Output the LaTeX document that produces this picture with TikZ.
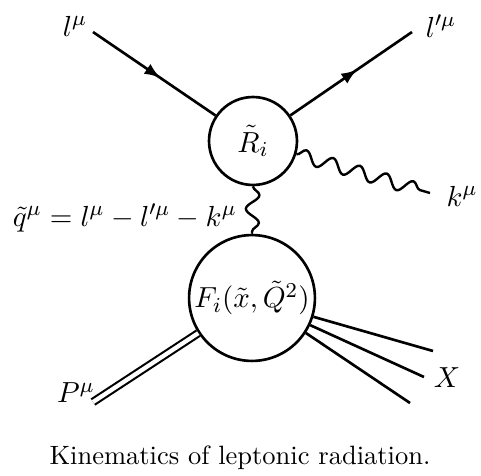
\documentclass[tikz,border=0pt]{standalone}
\usetikzlibrary{decorations.pathmorphing,decorations.markings,arrows.meta}

\tikzset{
  blob/.style={draw,circle,line width=1pt,inner sep=0pt},
  fermion/.style={line width=1pt,postaction={decorate},
    decoration={markings,mark=at position 0.55 with {\arrow{Latex[length=6pt,width=4.5pt]}}}},
  photon/.style={line width=0.9pt,decorate,
    decoration={snake,amplitude=2.5pt,segment length=10.5pt}},
  hadron/.style={double,double distance=1.6pt,line width=0.8pt},
  jet/.style={line width=1pt},
  lbl/.style={font=\fontsize{10.95}{13}\selectfont},
}

\begin{document}
\begin{tikzpicture}[x=0.3774pt,y=-0.3774pt]
        \useasboundingbox (0,0) rectangle (481,476);
        % blobs
        \node[blob,lbl,minimum size=33.2pt] (R) at (253,141) {$\tilde{R}_i$};
        \node[blob,lbl,minimum size=47.5pt] (F) at (252,298) {$F_i(\tilde{x},\tilde{Q}^2)$};
        % outer ends
        \coordinate (lin) at (93,32);
        \coordinate (lout) at (412,32);
        \coordinate (k) at (430,193);
        \coordinate (P) at (93,402);
        \coordinate (X1) at (433,351);
        \coordinate (X2) at (424,377);
        \coordinate (X3) at (410,403);
        % lines
        \draw[fermion] (lin) -- (R);
        \draw[fermion] (R) -- (lout);
        \draw[photon] (R.-17) -- (k);
        \draw[photon] (R.south) -- (F.north);
        \draw[hadron] (F) -- (P);
        \draw[jet] (F.-17) -- (X1);
        \draw[jet] (F.-25) -- (X2);
        \draw[jet] (F.-33) -- (X3);
        % labels
        \node[lbl] (llab) at (75,26) {$l^\mu$};
        \node[lbl] (lplab) at (441,26) {$l'^\mu$};
        \node[lbl] (klab) at (462,196) {$k^\mu$};
        \node[lbl,anchor=east] (qlab) at (246,218) {$\tilde{q}^\mu = l^\mu - l'^\mu - k^\mu$};
        \node[lbl] (Plab) at (76,393) {$P^\mu$};
        \node[lbl] (Xlab) at (447,378) {$X$};
        \node (cap) at (240,458) {Kinematics of leptonic radiation.};
\end{tikzpicture}
\end{document}
